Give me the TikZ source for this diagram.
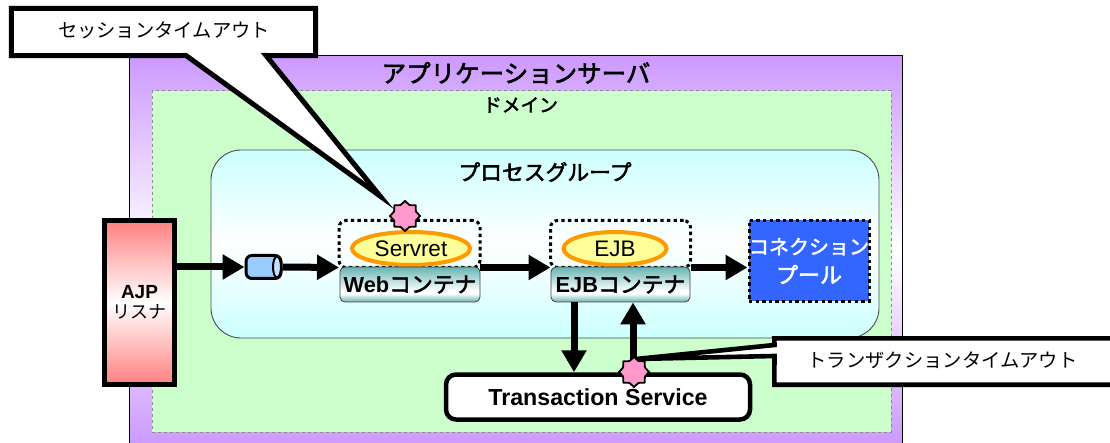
\documentclass[tikz,border=0pt]{standalone}
\usepackage{fontspec}
\setmainfont{Liberation Sans}
\newfontfamily\cjk{Noto Sans CJK JP}
\newfontfamily\cjkb[FakeBold=2.4]{Noto Sans CJK JP}
\usetikzlibrary{arrows.meta,shapes.geometric}
\definecolor{cPurple}{HTML}{CC99FF}
\definecolor{cGreen}{HTML}{CCFFCC}
\definecolor{cCyan}{HTML}{CCFFFF}
\definecolor{cRed}{HTML}{FF8080}
\definecolor{cTeal}{HTML}{66B3B3}
\definecolor{cYellow}{HTML}{FFFF99}
\definecolor{cOrange}{HTML}{FF9900}
\definecolor{cBlue}{HTML}{3366FF}
\definecolor{cQueue}{HTML}{99CCFF}
\definecolor{cStar}{HTML}{FF99CC}
\pgfdeclareverticalshading{contshade}{100bp}{color(0bp)=(cTeal); color(25bp)=(cTeal); color(37bp)=(white); color(41bp)=(white); color(75bp)=(cTeal); color(100bp)=(cTeal)}
\newcommand{\fs}[1]{\fontsize{#1}{#1}\selectfont}
\tikzset{
  box/.style={rectangle,inner sep=0pt,align=center},
  flow/.style={line width=7pt,-{Triangle[length=22pt,width=24pt]}},
  dotbox/.style={box,draw,line width=3pt,dash pattern=on 3.4pt off 3.2pt,rounded corners=7pt,outer sep=0pt},
  bean/.style={ellipse,draw=cOrange,fill=cYellow,line width=4pt,inner sep=0pt,font=\fs{22.5}},
  cont/.style={box,draw=black!75,line width=.8pt,rounded corners=5pt,shading=contshade,minimum width=140pt,minimum height=35pt},
  burst/.style={star,star points=8,star point ratio=1.27,draw,line width=1.8pt,fill=cStar,inner sep=0pt,minimum size=30pt},
  callout/.style={draw,fill=white,line width=5pt,line join=miter},
  tag/.style={box,font=\cjk\fs{19.3}}
}
\begin{document}
\begin{tikzpicture}[x=1pt,y=-1pt]
\useasboundingbox (0,0) rectangle (1110,443);
\clip (0,0) rectangle (1110,443);
% containers
\node[box,draw=black,line width=1pt,top color=cPurple,bottom color=cPurple,middle color=white,minimum width=773pt,minimum height=389pt] (server) at (515.5,250.5) {};
\node[box,draw=black!45,line width=1pt,dashed,fill=cGreen,minimum width=739pt,minimum height=341pt] (domain) at (521.5,261.5) {};
\node[box,draw=black!70,line width=.9pt,rounded corners=30pt,top color=cCyan,bottom color=cCyan,middle color=white,minimum width=668pt,minimum height=188pt] (pg) at (545,244) {};
\node[box,font=\cjkb\fs{24.5}] (serverlabel) at (516,73) {アプリケーションサーバ};
\node[box,font=\cjkb\fs{18.7}] (domainlabel) at (520.5,105) {ドメイン};
\node[box,font=\cjkb\fs{21.8}] (pglabel) at (545,172) {プロセスグループ};
% components
\node[box,draw,line width=5pt,top color=cRed,bottom color=cRed,middle color=white,minimum width=70pt,minimum height=164pt,font=\fs{19}] (ajp) at (139.5,302.5) {\textbf{AJP}\\[1pt]{\cjk\fs{18}リスナ}};
\node[box,draw,line width=3pt,rounded corners=6pt,fill=cQueue,minimum width=35pt,minimum height=23pt] (queue) at (263.5,267) {};
\draw[line width=2pt,fill=cQueue!60!white] (277,267) ellipse (4pt and 10.5pt);
\node[dotbox,minimum width=141pt,minimum height=47pt] (webgrp) at (409.5,244) {};
\node[dotbox,minimum width=140pt,minimum height=47pt] (ejbgrp) at (620.5,244) {};
\node[bean,minimum width=118pt,minimum height=33pt] (servlet) at (411,248.5) {Servret};
\node[bean,minimum width=103pt,minimum height=33pt] (ejbbean) at (615,248.5) {EJB};
\node[cont,font=\fs{21.8}] (web) at (410,284.5) {\textbf{Web}{\cjkb\fs{21.8}コンテナ}};
\node[cont,minimum width=139pt,font=\fs{21.8}] (ejb) at (620.5,284.5) {\textbf{EJB}{\cjkb\fs{21.8}コンテナ}};
\node[box,draw,fill=cBlue,line width=3pt,dash pattern=on 3.4pt off 3.2pt,minimum width=117pt,minimum height=81pt,text=white,font=\cjkb\fs{21}] (pool) at (809,261) {\fs{20}コネクション\\[8pt]\fs{22}プール};
\node[box,draw,fill=white,line width=4.5pt,rounded corners=10pt,minimum width=304pt,minimum height=45pt,font=\bfseries\fs{23.2}] (tx) at (598,397) {Transaction Service};
% connectors
\coordinate (xdown) at (574,0);
\coordinate (xup) at (633,0);
\draw[flow] (ajp.east |- queue.west) -- (queue.west);
\draw[flow] (queue.east) -- (webgrp.south west);
\draw[flow] (webgrp.south east) -- (ejbgrp.south west);
\draw[flow] (ejbgrp.south east) -- (pool.west |- ejbgrp.south east);
\draw[flow] (xdown |- ejb.south) -- (xdown |- tx.north);
\draw[flow] (xup |- tx.north) -- (xup |- ejb.south);
% callouts
\node[box,minimum width=304pt,minimum height=47pt] (c1) at (163.5,32) {};
\coordinate (tip1) at (380,196);
\draw[callout] (c1.north west) -- (c1.north east) -- (c1.south east) -- (266,55.5) -- (tip1) -- (186,55.5) -- (c1.south west) -- cycle;
\node[tag] (c1text) at (164,30) {セッションタイムアウト};
\node[box,minimum width=346pt,minimum height=46pt] (c2) at (947.5,361.5) {};
\coordinate (tip2) at (636,359);
\draw[callout,line width=4.6pt] (c2.north west) -- (c2.north east) -- (c2.south east) -- (c2.south west) -- (774.5,356) -- (tip2) -- (774.5,345) -- cycle;
\node[tag] (c2text) at (942.5,360) {トランザクションタイムアウト};
% markers
\node[burst] (s1) at (405,216) {};
\node[burst] (s2) at (634,372) {};
\end{tikzpicture}
\end{document}
